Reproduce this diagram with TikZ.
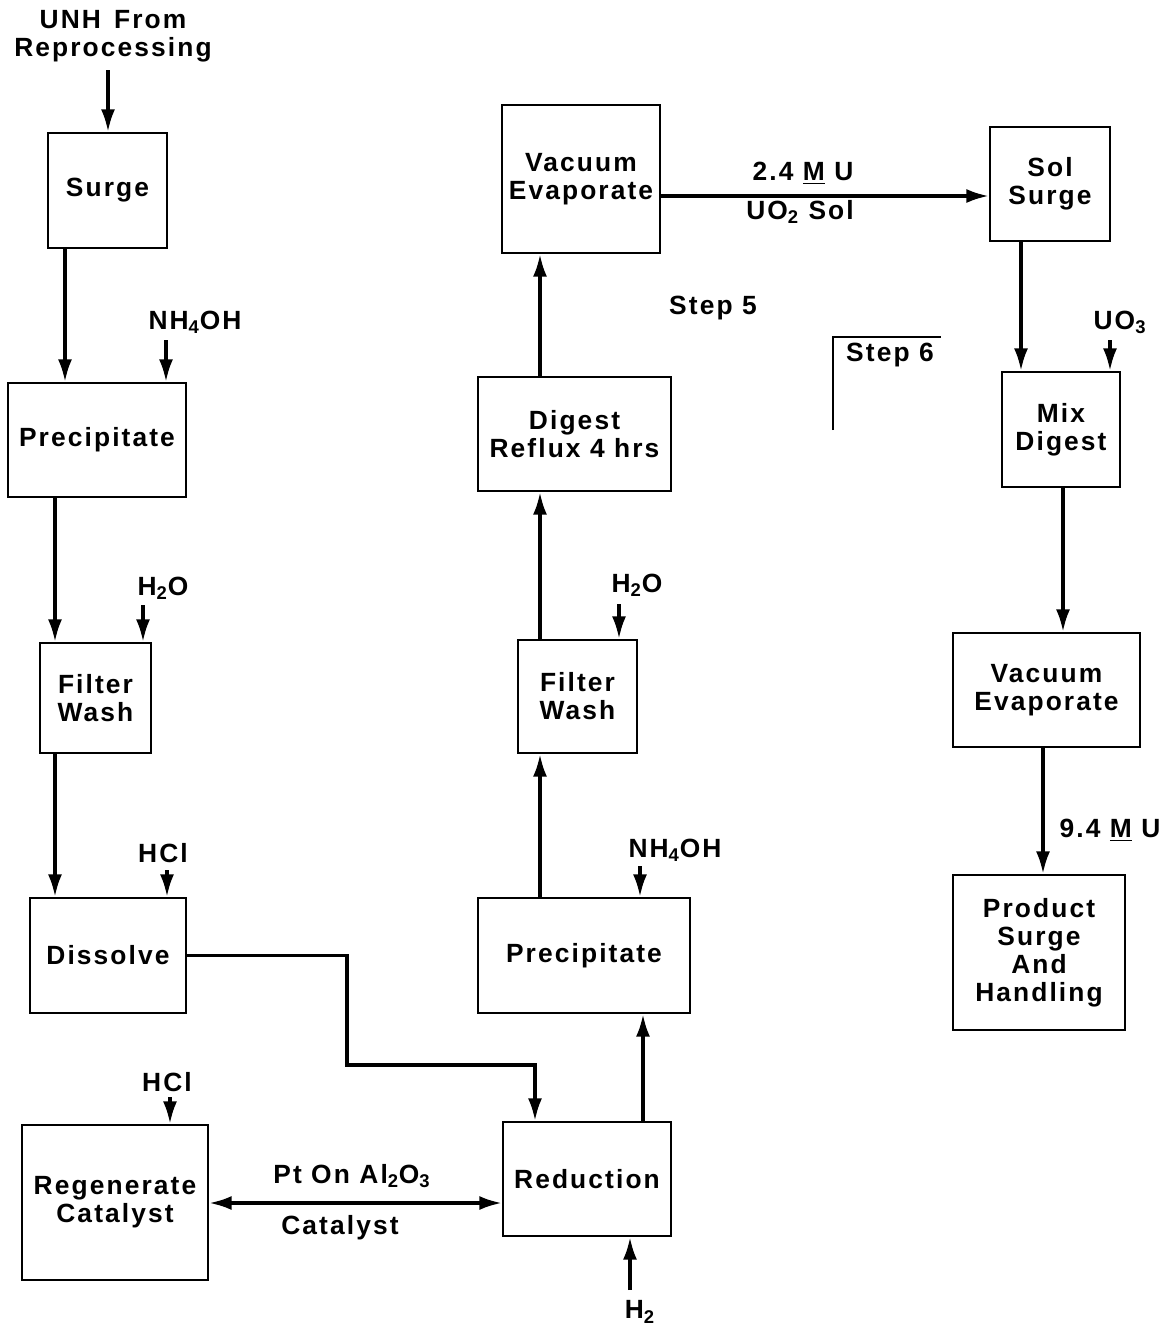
\documentclass[tikz,border=0pt]{standalone}
\usepackage{fontspec}
\newfontfamily\lettering{Liberation Sans}[LetterSpace=8]
\usetikzlibrary{positioning,arrows.meta}

\begin{document}
\begin{tikzpicture}[x=0.02cm, y=-0.02cm, >={Latex[length=4.5mm,width=2.8mm]}, line width=1.9pt,
    box/.style={draw, line width=1.3pt, align=center, inner sep=0pt,
        font=\lettering\bfseries\fontsize{15}{16}\selectfont},
    lbl/.style={align=center, inner sep=1pt,
        font=\lettering\bfseries\fontsize{15}{16}\selectfont}]

    \useasboundingbox (0,0) rectangle (1176,1332);

    % left column
    \node [box, minimum width=2.38cm, minimum height=2.30cm] (surge) at (107.5,190.5) {Surge};
    \node [box, minimum width=3.56cm, minimum height=2.28cm] (precA) at (97,440) {Precipitate};
    \node [box, minimum width=2.22cm, minimum height=2.20cm] (filtA) at (95.5,698) {Filter\\Wash};
    \node [box, minimum width=3.12cm, minimum height=2.30cm] (dissolve) at (108,955.5) {Dissolve};
    \node [box, minimum width=3.72cm, minimum height=3.10cm] (regen) at (115,1202.5) {Regenerate\\Catalyst};

    % middle column
    \node [box, minimum width=3.36cm, minimum height=2.28cm] (reduc) at (587,1179) {Reduction};
    \node [box, minimum width=4.24cm, minimum height=2.30cm] (precB) at (584,955.5) {Precipitate};
    \node [box, minimum width=2.38cm, minimum height=2.26cm] (filtB) at (577.5,696.5) {Filter\\Wash};
    \node [box, minimum width=3.86cm, minimum height=2.28cm] (digest) at (574.5,434) {Digest\\Reflux 4 hrs};
    \node [box, minimum width=3.16cm, minimum height=2.96cm] (vacA) at (581,179) {Vacuum\\Evaporate};

    % right column
    \node [box, minimum width=2.40cm, minimum height=2.28cm] (solsurge) at (1050,184) {Sol\\Surge};
    \node [box, minimum width=2.36cm, minimum height=2.30cm] (mix) at (1061,429.5) {Mix\\Digest};
    \node [box, minimum width=3.74cm, minimum height=2.28cm] (vacB) at (1046.5,690) {Vacuum\\Evaporate};
    \node [box, minimum width=3.44cm, minimum height=3.10cm] (product) at (1039,952.5) {Product\\Surge\\And\\Handling};

    % feeds
    \node [lbl] (unh) at (113,36) {UNH\enspace From\\Reprocessing};
    \node [lbl] (nhA) at (195,322) {NH\textsubscript{4}OH};
    \node [lbl] (waterA) at (163,588) {H\textsubscript{2}O};
    \node [lbl] (hclA) at (163,853) {HCl};
    \node [lbl] (hclB) at (167,1082) {HCl};
    \node [lbl] (hydro) at (640,1312) {H\textsubscript{2}};
    \node [lbl] (nhB) at (675,850) {NH\textsubscript{4}OH};
    \node [lbl] (waterB) at (637,585) {H\textsubscript{2}O};
    \node [lbl] (uo3) at (1120,322) {UO\textsubscript{3}};

    \coordinate (inUnh) at (108,70);
    \coordinate (inNhA) at (166,340);
    \coordinate (inWaterA) at (143,605);
    \coordinate (inHclA) at (167,870);
    \coordinate (inHclB) at (170,1097);
    \coordinate (inHydro) at (630,1290);
    \coordinate (inNhB) at (640,866);
    \coordinate (inWaterB) at (619,604);
    \coordinate (inUo3) at (1110,340);

    \draw [->] (inUnh) -- (inUnh |- surge.north);
    \draw [->] (inNhA) -- (inNhA |- precA.north);
    \draw [->] (inWaterA) -- (inWaterA |- filtA.north);
    \draw [->] (inHclA) -- (inHclA |- dissolve.north);
    \draw [->] (inHclB) -- (inHclB |- regen.north);
    \draw [->] (inHydro) -- (inHydro |- reduc.south);
    \draw [->] (inNhB) -- (inNhB |- precB.north);
    \draw [->] (inWaterB) -- (inWaterB |- filtB.north);
    \draw [->] (inUo3) -- (inUo3 |- mix.north);

    % main flow
    \coordinate (xa) at (65,0);
    \coordinate (xb) at (55,0);
    \coordinate (xd) at (535,0);
    \coordinate (xm) at (540,0);
    \coordinate (xr) at (643,0);
    \coordinate (xs) at (1021,0);
    \coordinate (xt) at (1063,0);
    \coordinate (xu) at (1043,0);
    \coordinate (ys) at (0,196);
    \coordinate (yc) at (0,1203);
    \coordinate (bend) at (347,1065);

    \draw [->] (surge.south -| xa) -- (precA.north -| xa);
    \draw [->] (precA.south -| xb) -- (filtA.north -| xb);
    \draw [->] (filtA.south -| xb) -- (dissolve.north -| xb);
    \draw [->] (dissolve.east) -| (bend) -| (reduc.north -| xd);
    \draw [<->] (regen.east |- yc) -- (reduc.west |- yc);
    \draw [->] (reduc.north -| xr) -- (precB.south -| xr);
    \draw [->] (precB.north -| xm) -- (filtB.south -| xm);
    \draw [->] (filtB.north -| xm) -- (digest.south -| xm);
    \draw [->] (digest.north -| xm) -- (vacA.south -| xm);
    \draw [->] (vacA.east |- ys) -- (solsurge.west |- ys);
    \draw [->] (solsurge.south -| xs) -- (mix.north -| xs);
    \draw [->] (mix.south -| xt) -- (vacB.north -| xt);
    \draw [->] (vacB.south -| xu) -- (product.north -| xu);

    % stream labels
    \node [lbl] (ptlbl) at (352,1176) {Pt On Al\textsubscript{2}O\textsubscript{3}};
    \node [lbl] (catlbl) at (340,1228) {Catalyst};
    \node [lbl] (conc) at (803,173) {2.4 \underline{M} U};
    \node [lbl] (sollbl) at (800,212) {UO\textsubscript{2} Sol};
    \node [lbl] (prodconc) at (1110,830) {9.4 \underline{M} U};

    % steps
    \node [lbl] (stepfive) at (713,308) {Step 5};
    \node [lbl] (stepsix) at (890,355) {Step 6};
    \draw [line width=1.3pt] (833,430) -- (833,337) -- (941,337);

\end{tikzpicture}
\end{document}
